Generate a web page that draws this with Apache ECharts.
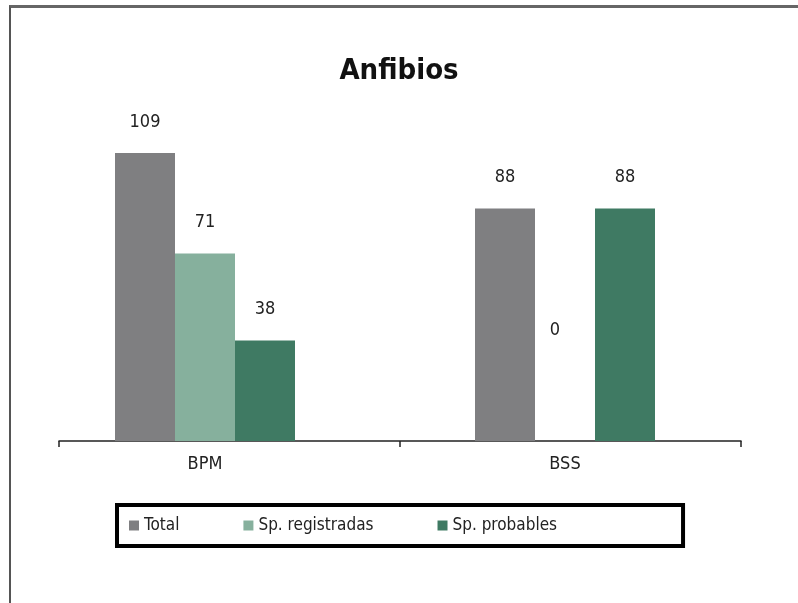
<!DOCTYPE html>
<html>
<head>
<meta charset="utf-8">
<script src="https://cdn.jsdelivr.net/npm/echarts@6/dist/echarts.min.js"></script>
<style>
  html, body { margin: 0; padding: 0; background: #fff; }
  #frame { position: absolute; left: 9px; top: 5px; width: 800px; height: 610px;
           border-left: 2px solid #555; border-top: 3px solid #666; }
  #chart { position: absolute; left: 0; top: 0; width: 798px; height: 603px; }
</style>
</head>
<body>
<div id="frame"></div>
<div id="chart"></div>
<script>
  const categories = ['BPM', 'BSS']
  const seriesNames = ['Total', 'Sp. registradas', 'Sp. probables']
  const total = [109, 88]
  const registradas = [71, 0]
  const probables = [38, 88]
  const colors = ['#7f7f81', '#86b09d', '#3f7a63']

  const font = "'Liberation Sans Narrow', 'DejaVu Sans Condensed', 'Roboto', sans-serif"

  const chart = echarts.init(document.getElementById('chart'))

  function barSeries(name, data, color) {
    return {
      name: name,
      type: 'bar',
      xAxisIndex: 0,
      yAxisIndex: 0,
      barWidth: 60,
      barGap: '0%',
      itemStyle: { color: color },
      label: {
        show: true,
        position: 'top',
        distance: 22,
        color: '#222',
        fontSize: 18,
        fontFamily: font
      },
      data: data.map(v => {
        // a zero value is labelled halfway up the plot, as in the source
        if (v === 0) {
          return { value: v, label: { offset: [-10, -80] } }
        }
        return v
      }),
      animation: false
    }
  }

  chart.setOption({
    title: {
      text: 'Anfibios',
      left: 'center',
      top: 52,
      textStyle: { fontSize: 29, fontWeight: 'bold', color: '#111', fontFamily: font }
    },
    legend: {
      data: seriesNames,
      left: 117,
      top: 505,
      orient: 'horizontal',
      icon: 'rect',
      itemWidth: 10,
      itemHeight: 10,
      itemGap: 64,
      padding: [12, 126, 12, 12],
      borderColor: '#000',
      borderWidth: 4,
      textStyle: { fontSize: 17, color: '#222', fontFamily: font }
    },
    grid: [
      { left: 25, right: 53, top: 124, bottom: 162 },
      { left: 59, right: 57, top: 124, bottom: 162 }
    ],
    xAxis: [
      {
        type: 'category',
        gridIndex: 0,
        data: categories,
        axisLine: { show: false },
        axisTick: { show: false },
        axisLabel: { color: '#222', fontSize: 18, margin: 14, fontFamily: font }
      },
      {
        type: 'category',
        gridIndex: 1,
        data: categories,
        axisLine: { show: true, lineStyle: { color: '#222', width: 1.5 } },
        axisTick: { show: true, length: 6, lineStyle: { color: '#222', width: 1.5 } },
        axisLabel: { show: false }
      }
    ],
    yAxis: [
      { type: 'value', gridIndex: 0, min: 0, max: 120, show: false },
      { type: 'value', gridIndex: 1, min: 0, max: 120, show: false }
    ],
    series: [
      barSeries(seriesNames[0], total, colors[0]),
      barSeries(seriesNames[1], registradas, colors[1]),
      barSeries(seriesNames[2], probables, colors[2])
    ]
  })
</script>
</body>
</html>
